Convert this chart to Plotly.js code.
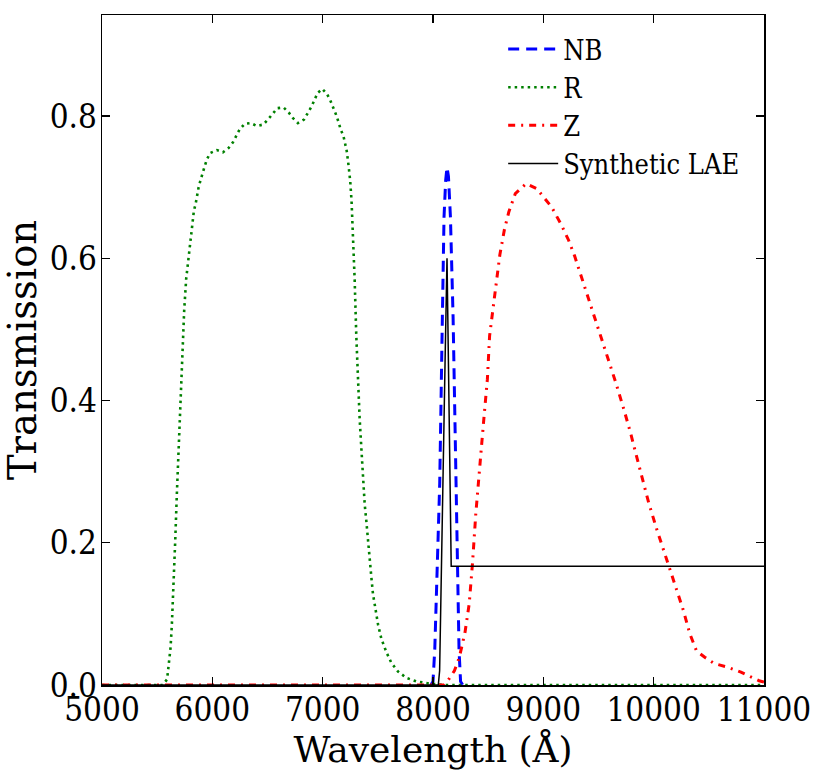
<!DOCTYPE html>
<html>
<head>
<meta charset="utf-8">
<script src="https://cdn.plot.ly/plotly-3.0.1.min.js"></script>
<style>html,body{margin:0;padding:0;background:#fff;}#chart{width:814px;height:772px;}</style>
</head>
<body>
<div id="chart"></div>
<script>
// NB narrow-band filter
const nbWave = [7980, 8000, 8016, 8040, 8061, 8085, 8100, 8115, 8127, 8140, 8158, 8182, 8206, 8225, 8236, 8250, 8270];
const nbTrans = [0, 0.005, 0.05, 0.16, 0.284, 0.518, 0.658, 0.71, 0.728, 0.715, 0.658, 0.518, 0.284, 0.13, 0.049, 0.005, 0];

// R broad-band filter
const rWave = [5000, 5550, 5590, 5606, 5621, 5633, 5649, 5664, 5678, 5694, 5709, 5727, 5745, 5763, 5785, 5800, 5815, 5833, 5848, 5860, 5875, 5890, 5908, 5930, 5951, 5981, 6041, 6096, 6147, 6187, 6217, 6247, 6293, 6347, 6404, 6462, 6504, 6544, 6589, 6646, 6692, 6731, 6776, 6831, 6864, 6894, 6925, 6952, 6997, 7039, 7069, 7097, 7121, 7145, 7163, 7188, 7202, 7218, 7235, 7250, 7262, 7275, 7290, 7305, 7320, 7335, 7351, 7366, 7381, 7396, 7411, 7426, 7441, 7456, 7481, 7502, 7532, 7578, 7623, 7683, 7759, 7850, 7970, 8100, 11000];
const rTrans = [0, 0, 0.008, 0.03, 0.052, 0.084, 0.138, 0.204, 0.267, 0.333, 0.397, 0.462, 0.527, 0.571, 0.602, 0.623, 0.646, 0.667, 0.676, 0.688, 0.699, 0.708, 0.719, 0.729, 0.739, 0.748, 0.752, 0.749, 0.755, 0.763, 0.772, 0.781, 0.789, 0.790, 0.786, 0.788, 0.795, 0.803, 0.811, 0.812, 0.805, 0.797, 0.790, 0.795, 0.803, 0.812, 0.822, 0.832, 0.838, 0.831, 0.822, 0.812, 0.802, 0.791, 0.781, 0.772, 0.761, 0.751, 0.730, 0.708, 0.680, 0.635, 0.570, 0.490, 0.428, 0.375, 0.332, 0.288, 0.254, 0.230, 0.201, 0.177, 0.152, 0.128, 0.104, 0.085, 0.065, 0.046, 0.031, 0.019, 0.010, 0.005, 0.002, 0, 0];

// Z broad-band filter
const zWave = [5000, 8100, 8134, 8194, 8239, 8290, 8328, 8358, 8388, 8418, 8442, 8463, 8493, 8513, 8546, 8576, 8606, 8648, 8687, 8746, 8845, 8940, 9075, 9160, 9230, 9284, 9358, 9433, 9507, 9582, 9657, 9731, 9791, 9881, 9955, 10030, 10119, 10194, 10269, 10328, 10388, 10463, 10552, 10672, 10791, 10955, 11000];
const zTrans = [0, 0, 0.006, 0.02, 0.039, 0.074, 0.114, 0.171, 0.241, 0.303, 0.34, 0.378, 0.43, 0.491, 0.529, 0.566, 0.605, 0.641, 0.665, 0.691, 0.705, 0.698, 0.672, 0.648, 0.625, 0.603, 0.568, 0.533, 0.496, 0.463, 0.425, 0.387, 0.354, 0.300, 0.256, 0.218, 0.176, 0.138, 0.105, 0.072, 0.048, 0.039, 0.030, 0.025, 0.018, 0.006, 0.004];

// Synthetic LAE spectrum
const laeWave = [5000, 8048, 8060, 8085, 8110, 8127, 8146, 8165, 11000];
const laeFlux = [0, 0, 0.02, 0.27, 0.46, 0.6, 0.38, 0.167, 0.167];

const xTicks = [5000, 6000, 7000, 8000, 9000, 10000, 11000];
const yTicks = [0.0, 0.2, 0.4, 0.6, 0.8];
const yTickText = ['0.0', '0.2', '0.4', '0.6', '0.8'];

const serifC = '"DejaVu Serif Condensed", "DejaVu Serif", serif';
const serif = '"DejaVu Serif", serif';

const traces = [
  {x: nbWave, y: nbTrans, name: 'NB', mode: 'lines', line: {color: '#0000ff', width: 3, dash: '11px,7px'}},
  {x: rWave, y: rTrans, name: 'R', mode: 'lines', line: {color: '#008000', width: 2.6, dash: '2.5px,4px'}},
  {x: zWave, y: zTrans, name: 'Z', mode: 'lines', line: {color: '#ff0000', width: 3, dash: '7px,6px,2px,6px'}},
  {x: laeWave, y: laeFlux, name: 'Synthetic LAE', mode: 'lines', line: {color: '#000000', width: 1.5}}
];

const axisCommon = {
  showline: true, linecolor: '#000', linewidth: 1.5, mirror: 'ticks',
  ticks: 'inside', ticklen: 8, tickwidth: 1.2, tickcolor: '#000',
  showgrid: false, zeroline: false,
  tickfont: {family: serifC, size: 33, color: '#000'}
};

const layout = {
  width: 814, height: 772,
  margin: {l: 102, r: 50, t: 15, b: 87},
  paper_bgcolor: '#fff', plot_bgcolor: '#fff',
  showlegend: true,
  legend: {x: 0.606, y: 0.985, xanchor: 'left', yanchor: 'top', bgcolor: 'rgba(0,0,0,0)',
           font: {family: serifC, size: 27, color: '#000'}, itemwidth: 50, tracegroupgap: 0},
  xaxis: Object.assign({}, axisCommon, {
    range: [5000, 11000], tickvals: xTicks, ticktext: xTicks.map(String),
    ticklabelstandoff: -5,
    title: {text: 'Wavelength (Å)', font: {family: serif, size: 36, color: '#000'}, standoff: 6}
  }),
  yaxis: Object.assign({}, axisCommon, {
    range: [0, 0.942], tickvals: yTicks, ticktext: yTickText,
    ticklabelstandoff: -3,
    title: {text: 'Transmission', font: {family: serif, size: 38.5, color: '#000'}, standoff: 2}
  })
};

Plotly.newPlot('chart', traces, layout, {displayModeBar: false, staticPlot: true});
</script>
</body>
</html>
